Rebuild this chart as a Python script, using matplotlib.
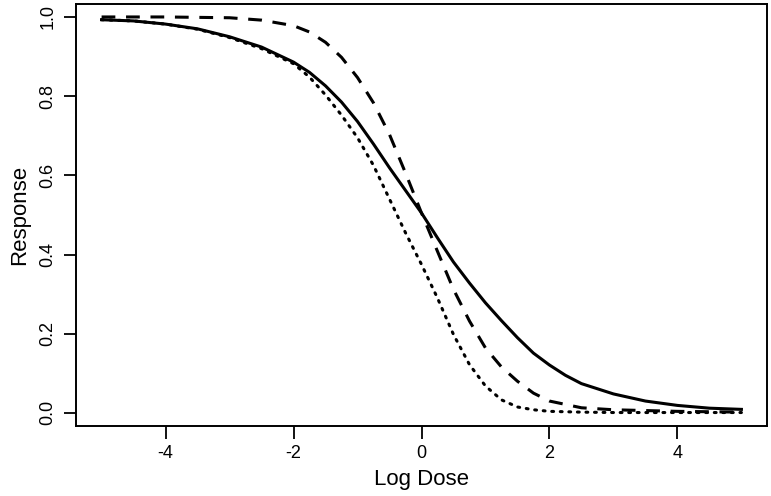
import numpy as np
import matplotlib.pyplot as plt

# valores
x_solid = [-5, -4.5, -4, -3.5, -3, -2.5, -2, -1.75, -1.5, -1.25, -1, -0.75, -0.5, -0.25,
           0, 0.25, 0.5, 0.75, 1.0, 1.25, 1.5, 1.75, 2.0, 2.25, 2.5, 3.0, 3.5, 4.0, 4.5, 5.0]
y_solid = [0.993, 0.990, 0.982, 0.970, 0.950, 0.924, 0.886, 0.860, 0.826, 0.785, 0.736, 0.679, 0.619, 0.562,
           0.505, 0.442, 0.381, 0.328, 0.278, 0.233, 0.190, 0.151, 0.121, 0.095, 0.074, 0.048, 0.030, 0.019, 0.012, 0.009]

x_dash = [-5, -4, -3, -2.5, -2, -1.75, -1.5, -1.25, -1, -0.75, -0.5, -0.25,
          0, 0.25, 0.5, 0.75, 1.0, 1.25, 1.5, 1.75, 2.0, 2.5, 3, 4, 5]
y_dash = [1.0, 1.0, 0.998, 0.992, 0.978, 0.962, 0.936, 0.898, 0.847, 0.783, 0.703, 0.606,
          0.505, 0.408, 0.312, 0.232, 0.164, 0.116, 0.080, 0.050, 0.030, 0.013, 0.008, 0.004, 0.002]

x_dot = [-5, -4.5, -4, -3.5, -3, -2.5, -2, -1.75, -1.5, -1.25, -1, -0.75, -0.5, -0.25,
         0, 0.25, 0.5, 0.75, 1.0, 1.25, 1.5, 1.75, 2, 2.5, 3, 5]
y_dot = [0.993, 0.990, 0.982, 0.969, 0.948, 0.920, 0.882, 0.848, 0.803, 0.752, 0.695, 0.625, 0.540, 0.455,
         0.375, 0.290, 0.198, 0.122, 0.068, 0.033, 0.015, 0.008, 0.004, 0.002, 0.001, 0.001]

xticks = [-4, -2, 0, 2, 4]
yticks = [0.0, 0.2, 0.4, 0.6, 0.8, 1.0]

plt.rcParams['font.family'] = ['Liberation Sans', 'DejaVu Sans']

fig = plt.figure(figsize=(7.71, 4.96), dpi=100)
ax = fig.add_axes([76/771, 70/496, 691/771, 422.5/496])

ax.plot(x_solid, y_solid, '-', color='black', lw=2.2)
ax.plot(x_dash, y_dash, color='black', lw=2.2, dashes=(4.5, 3.5))
ax.plot(x_dot, y_dot, color='black', lw=2.2, dashes=(0.6, 2.2), dash_capstyle='round')

ax.set_xlim(-5.4, 5.4)
ax.set_ylim(-0.033, 1.034)
ax.set_xticks(xticks)
ax.set_xticklabels([str(v) for v in xticks])
ax.set_yticks(yticks)
ax.set_yticklabels(['%.1f' % v for v in yticks], rotation=90, va='center')
ax.tick_params(direction='out', length=9, width=1.3, labelsize=13, pad=5, color='black')
for s in ax.spines.values():
    s.set_linewidth(1.4)

ax.set_xlabel('Log Dose', fontsize=16, labelpad=5)
ax.set_ylabel('Response', fontsize=16, labelpad=7)

fig.savefig('out.png', dpi=100)
